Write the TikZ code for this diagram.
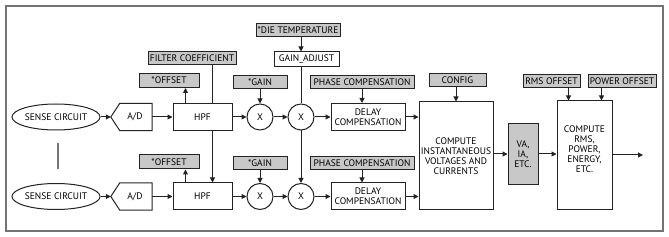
\documentclass[tikz,border=0pt]{standalone}
\usepackage{fontspec}
\setmainfont{PT Sans}
\usetikzlibrary{arrows.meta,shapes.geometric,calc}
\definecolor{boxgray}{RGB}{200,200,200}
\definecolor{linec}{RGB}{35,35,35}
\definecolor{framec}{RGB}{115,115,115}
\begin{document}
\begin{tikzpicture}[x=1pt,y=-1pt,
  every node/.style={font=\fontsize{9.5}{10}\selectfont, text=black, inner sep=0pt, align=center},
  wbox/.style={draw=linec, line width=1pt, fill=white, minimum width=#1},
  gbox/.style={draw=linec, line width=1pt, fill=boxgray, minimum width=#1, minimum height=13pt},
  circ/.style={draw=linec, line width=1pt, circle, minimum size=26pt},
  arr/.style={draw=linec, line width=1pt, -{Triangle[length=5pt,width=5pt]}},
  ln/.style={draw=linec, line width=1pt}
]
\useasboundingbox (0,0) rectangle (669,237);
\draw[framec, line width=1.6pt] (6,6) rectangle (663,231);

% row 1
\node[ellipse, draw=linec, line width=1pt, minimum width=65pt, minimum height=26pt] (s1) at (56,117) {SENSE CIRCUIT};
\node[minimum width=41pt, minimum height=27pt] (ad1) at (131.5,117) {\hspace*{7pt}A/D};
\node[wbox=59pt, minimum height=27pt] (h1) at (202.5,117) {HPF};
\node[circ] (xa1) at (260,117) {X};
\node[circ] (xb1) at (301,117) {X};
\node[wbox=74pt, minimum height=27pt] (d1) at (368,117) {DELAY\\COMPENSATION};

% row 2
\node[ellipse, draw=linec, line width=1pt, minimum width=65pt, minimum height=26pt] (s2) at (56,196.5) {SENSE CIRCUIT};
\node[minimum width=41pt, minimum height=27pt] (ad2) at (131.5,196.5) {\hspace*{7pt}A/D};
\node[wbox=59pt, minimum height=27pt] (h2) at (202.5,196.5) {HPF};
\node[circ] (xa2) at (260,196.5) {X};
\node[circ] (xb2) at (301,196.5) {X};
\node[wbox=74pt, minimum height=27pt] (d2) at (368,196.5) {DELAY\\COMPENSATION};

% A/D outlines
\foreach \a in {ad1,ad2}{
  \draw[ln] (\a.west) -- ($(\a.north west)+(9,0)$) -- (\a.north east) -- (\a.south east) -- ($(\a.south west)+(9,0)$) -- cycle;
}

% parameter boxes
\node[gbox=88pt] (fc) at (192,58.5) {FILTER COEFFICIENT};
\node[gbox=60pt, minimum height=14pt] (of1) at (169,80.5) {*OFFSET};
\node[gbox=60pt, minimum height=14pt] (of2) at (169,162) {*OFFSET};
\node[gbox=54pt] (g1) at (260,82) {*GAIN};
\node[gbox=54pt] (g2) at (260,163) {*GAIN};
\node[gbox=84pt] (dt) at (298,30.5) {*DIE TEMPERATURE};
\node[wbox=65pt, minimum height=15pt] (ga) at (306.5,59.5) {GAIN\_ADJUST};
\node[gbox=104pt] (p1) at (362,82) {PHASE COMPENSATION};
\node[gbox=104pt] (p2) at (362,163.5) {PHASE COMPENSATION};
\node[gbox=57pt] (cf) at (457.5,80.5) {CONFIG};
\node[gbox=57pt] (ro) at (551.5,81) {RMS OFFSET};
\node[gbox=68pt] (po) at (622,81) {POWER OFFSET};

% big boxes
\node[wbox=74pt, minimum height=108pt] (ci) at (456,156) {COMPUTE\\INSTANTANEOUS\\VOLTAGES AND\\CURRENTS};
\node[draw=linec, line width=1pt, fill=boxgray, minimum width=30pt, minimum height=61pt] (va) at (523,154) {VA,\\IA,\\ETC.};
\node[wbox=55pt, minimum height=109pt] (rms) at (584.5,155.5) {COMPUTE\\RMS,\\POWER,\\ENERGY,\\ETC.\\[3pt]};
\coordinate (out) at (643,155);

% helper coordinates
\foreach \r in {1,2}{
  \path (h\r.north west) ++(13,0) coordinate (ho\r);
  \path (ho\r |- of\r.south) coordinate (oo\r);
}
\path (h1.north west) ++(40,0) coordinate (fa);
\path (h1.south west) ++(40,0) coordinate (fb);
\path (h2.north west) ++(40,0) coordinate (fc2);
\path (fa |- fc.south) coordinate (ftop);
\path (ro.south east) ++(-12,0) coordinate (rob);
\path (rob |- rms.north) coordinate (rot);
\path (po.south west) ++(14,0) coordinate (pob);
\path (pob |- rms.north) coordinate (pot);

% separator line between sense circuits
\coordinate (sepa) at (58,143);
\coordinate (sepb) at (58,169);
\draw[framec, line width=1.3pt] (sepa) -- (sepb);

% main chains
\foreach \r in {1,2}{
  \draw[arr] (s\r) -- (ad\r);
  \draw[arr] (ad\r) -- (h\r);
  \draw[arr] (h\r) -- (xa\r);
  \draw[arr] (xa\r) -- (xb\r);
  \draw[arr] (xb\r) -- (d\r);
  \draw[arr] (d\r.east) -- (d\r.east -| ci.west);
  \draw[arr] (g\r) -- (xa\r);
  \draw[arr] (p\r.south) -- (p\r.south |- d\r.north);
  \draw[arr] (ho\r) -- (oo\r);
}

% filter coefficient line
\draw[ln] (ftop) -- (fa);
\draw[arr] (fb) -- (fc2);

% gain adjust
\draw[arr] (dt.south -| xb1) -- (ga.north -| xb1);
\draw[ln] (ga.south -| xb1) -- (xb1.north);
\draw[arr] (xb1.south) -- (xb2.north);

% right side
\draw[arr] (cf.south -| ci) -- (ci.north);
\draw[arr] (ci.east |- va) -- (va.west);
\draw[arr] (va.east) -- (va.east -| rms.west);
\draw[arr] (rms.east |- out) -- (out);
\draw[arr] (rob) -- (rot);
\draw[arr] (pob) -- (pot);
\end{tikzpicture}
\end{document}
